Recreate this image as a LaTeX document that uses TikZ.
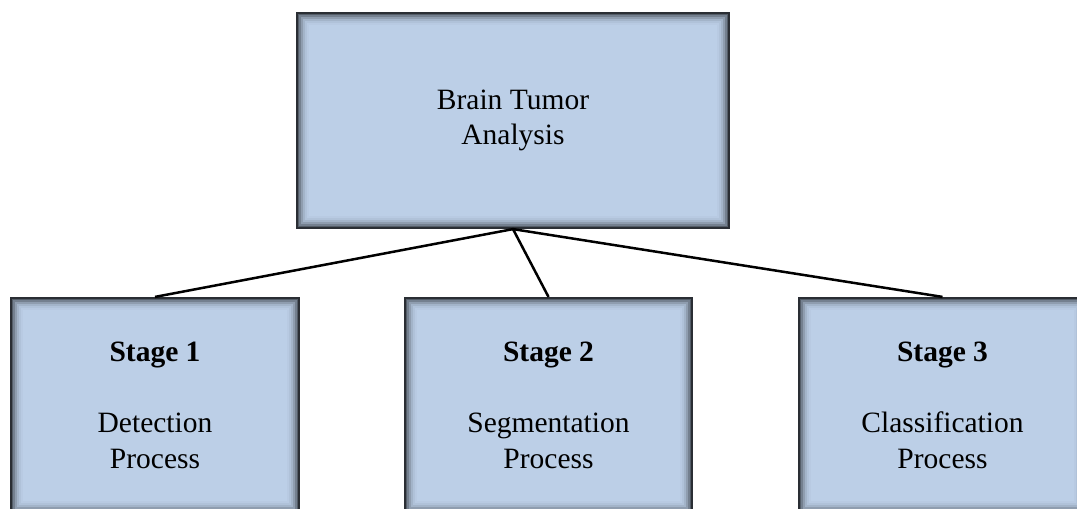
\documentclass[tikz,border=0pt]{standalone}
\usepackage{fontspec}
\setmainfont{Liberation Serif}
\definecolor{boxfill}{HTML}{BCCFE7}
\definecolor{boxedge}{HTML}{2A2E34}
\tikzset{
  stagebox/.style={
    draw=boxedge, line width=2.2pt, fill=boxfill,
    align=center, inner sep=0pt,
    font=\fontsize{29.5}{35.5}\selectfont,
    path picture={
      \foreach \i/\o in {1/0.55,3/0.38,5/0.24,7/0.13,9/0.06,11/0.02}{
        \draw[black, opacity=\o, line width=2pt]
          ([shift={(\i pt,-\i pt)}]path picture bounding box.north west)
          rectangle
          ([shift={(-\i pt,\i pt)}]path picture bounding box.south east);
      }
    }
  },
  link/.style={draw=black, line width=2.5pt}
}
\begin{document}
\begin{tikzpicture}[x=1pt,y=-1pt]
  \useasboundingbox (0,0) rectangle (1077,509);
  \clip (0,0) rectangle (1077,509);

  % root of the tree
  \node[stagebox, minimum width=432pt, minimum height=215pt] (root)
    at (513,120.5) {Brain Tumor\\Analysis};

  % the three stages
  \node[stagebox, minimum width=288pt, minimum height=215pt] (s1)
    at (155,405.5) {\textbf{Stage 1}\\[35.5pt]Detection\\Process};
  \node[stagebox, minimum width=287pt, minimum height=215pt] (s2)
    at (548.5,405.5) {\textbf{Stage 2}\\[35.5pt]Segmentation\\Process};
  \node[stagebox, minimum width=287pt, minimum height=215pt] (s3)
    at (942.5,405.5) {\textbf{Stage 3}\\[35.5pt]Classification\\Process};

  % connectors from the root to each stage
  \draw[link] (root.south) -- (s1.north);
  \draw[link] (root.south) -- (s2.north);
  \draw[link] (root.south) -- (s3.north);
\end{tikzpicture}
\end{document}
